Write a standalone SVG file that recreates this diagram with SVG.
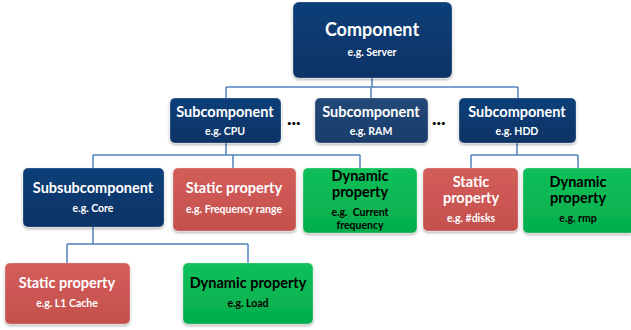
<svg xmlns="http://www.w3.org/2000/svg" width="631" height="330" viewBox="0 0 631 330">
<defs>
<linearGradient id="gBlue" x1="0" y1="0" x2="0" y2="1"><stop offset="0" stop-color="#0e3f78"/><stop offset="1" stop-color="#073366"/></linearGradient>
<linearGradient id="gBlue2" x1="0" y1="0" x2="0" y2="1"><stop offset="0" stop-color="#234877"/><stop offset="1" stop-color="#1a3d6a"/></linearGradient>
<linearGradient id="gRed" x1="0" y1="0" x2="0" y2="1"><stop offset="0" stop-color="#d35d59"/><stop offset="1" stop-color="#c4504d"/></linearGradient>
<linearGradient id="gGreen" x1="0" y1="0" x2="0" y2="1"><stop offset="0" stop-color="#12c05a"/><stop offset="1" stop-color="#03ad4c"/></linearGradient>
<filter id="sh" x="-10%" y="-10%" width="120%" height="130%"><feDropShadow dx="0" dy="1.5" stdDeviation="1.5" flood-color="#000" flood-opacity="0.35"/></filter>
</defs>
<style>
.box{stroke:#ffffff;stroke-opacity:0.25;stroke-width:1;filter:url(#sh)}
.blue{fill:url(#gBlue)}
.blue2{fill:url(#gBlue2)}
.red{fill:url(#gRed)}
.green{fill:url(#gGreen)}
text{font-family:"Lato","Open Sans","Liberation Sans",sans-serif;font-weight:bold;text-anchor:middle}
.t{font-size:14.5px}
.t1{font-size:18px}
.s{font-size:10.5px}
.w{fill:#ffffff}
.k{fill:#000000}
.conn{fill:none;stroke:#4f81bd;stroke-width:1.5}
.dots{font-size:19px;font-weight:900;fill:#000;text-anchor:start}
</style>
<rect width="631" height="330" fill="#ffffff"/>
<g id="connectors">
<path class="conn" d="M372 78V87M226 87H518M226 87V98M371 87V98M518 87V98"/>
<path class="conn" d="M226 143V155M93 155H360M93 155V168M233 155V168M360 155V168"/>
<path class="conn" d="M517 143V155M471 155H578M471 155V168M578 155V168"/>
<path class="conn" d="M93 227V244M67 244H248M67 244V263M248 244V263"/>
</g>
<g id="component"><rect class="box blue" x="293" y="2" width="159" height="76" rx="6"/><text class="t1 w" x="372" y="36">Component</text><text class="s w" x="372" y="56">e.g. Server</text></g>
<g id="sub-cpu"><rect class="box blue" x="170" y="98" width="111" height="45" rx="5"/><text class="t w" x="225" y="117">Subcomponent</text><text class="s w" x="225" y="135">e.g. CPU</text></g>
<g id="dots1"><text class="dots" x="287" y="125">...</text></g>
<g id="sub-ram"><rect class="box blue2" x="315" y="98" width="113" height="45" rx="5"/><text class="t w" x="371" y="117">Subcomponent</text><text class="s w" x="371" y="135">e.g. RAM</text></g>
<g id="dots2"><text class="dots" x="432" y="125">...</text></g>
<g id="sub-hdd"><rect class="box blue" x="459" y="98" width="117" height="45" rx="5"/><text class="t w" x="517" y="117">Subcomponent</text><text class="s w" x="517" y="135">e.g. HDD</text></g>
<g id="subsub-core"><rect class="box blue" x="23" y="168" width="141" height="59" rx="5"/><text class="t w" x="93" y="193">Subsubcomponent</text><text class="s w" x="93" y="212">e.g. Core</text></g>
<g id="static-freq"><rect class="box red" x="173" y="168" width="123" height="63" rx="5"/><text class="t w" x="234" y="193">Static property</text><text class="s w" x="234" y="213">e.g. Frequency range</text></g>
<g id="dynamic-freq"><rect class="box green" x="303" y="168" width="114" height="65" rx="5"/><text class="t k" x="360" y="181">Dynamic</text><text class="t k" x="360" y="197">property</text><text class="s k" x="360" y="216" xml:space="preserve">e.g.  Current</text><text class="s k" x="360" y="229">frequency</text></g>
<g id="static-disks"><rect class="box red" x="423" y="168" width="95" height="63" rx="5"/><text class="t w" x="471" y="187">Static</text><text class="t w" x="471" y="203">property</text><text class="s w" x="471" y="222">e.g. #disks</text></g>
<g id="dynamic-rmp"><rect class="box green" x="523" y="168" width="112" height="65" rx="5"/><text class="t k" x="578" y="187">Dynamic</text><text class="t k" x="578" y="203">property</text><text class="s k" x="578" y="222">e.g. rmp</text></g>
<g id="static-l1"><rect class="box red" x="5" y="263" width="125" height="61" rx="5"/><text class="t w" x="67" y="288">Static property</text><text class="s w" x="67" y="307">e.g. L1 Cache</text></g>
<g id="dynamic-load"><rect class="box green" x="183" y="263" width="130" height="61" rx="5"/><text class="t k" x="248" y="288">Dynamic property</text><text class="s k" x="248" y="307">e.g. Load</text></g>
</svg>
